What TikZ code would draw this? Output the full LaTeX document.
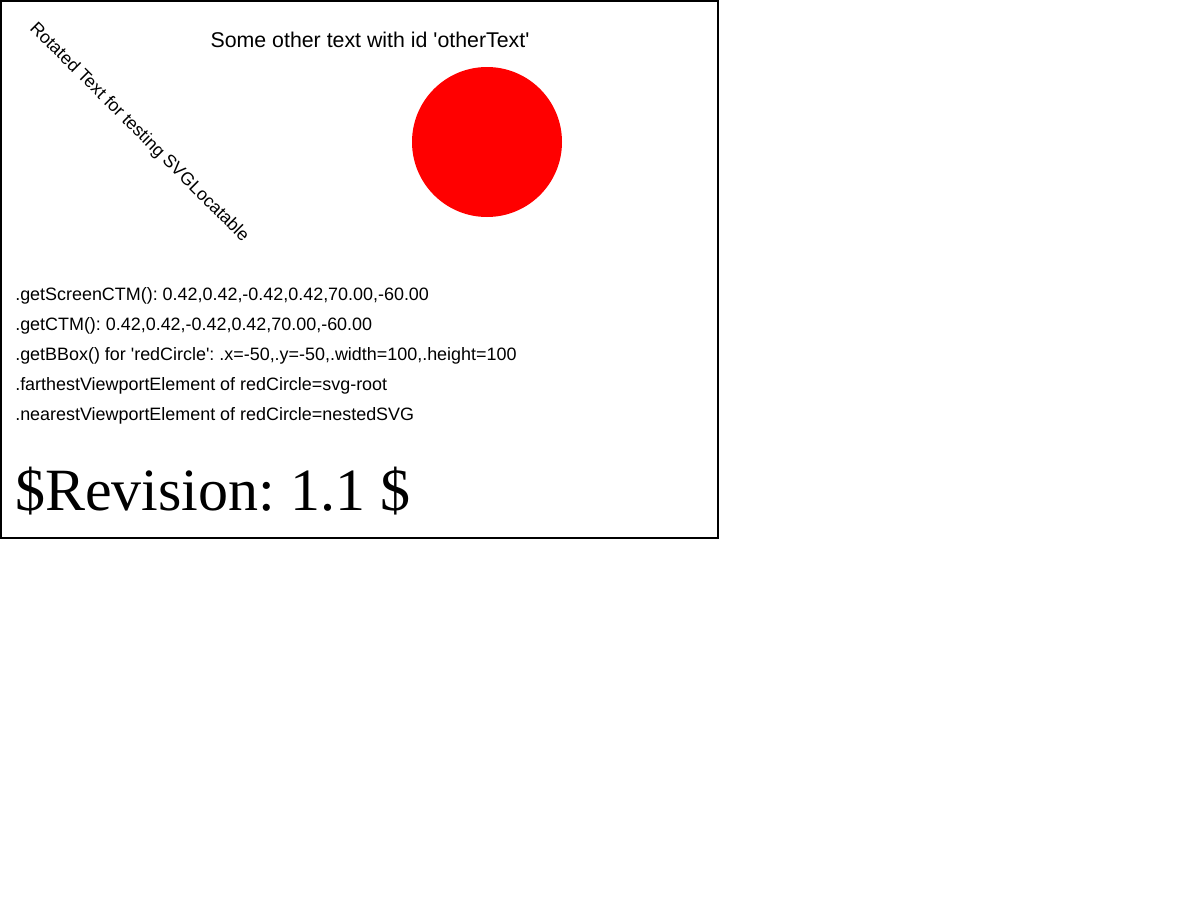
\documentclass[tikz,border=0pt]{standalone}
\usepackage{fontspec}
\setmainfont{Liberation Sans}
\newfontfamily\serifrev{Liberation Serif}
\frenchspacing
\begin{document}
\begin{tikzpicture}[x=0.75pt,y=-0.75pt,
  txt/.style={inner sep=0pt,anchor=base west,font=\fontsize{13.45}{16}\selectfont}]
\useasboundingbox (0,0) rectangle (1200,900);
\draw[line width=1.1pt] (1,1) rectangle (718,538);
\fill[red] (487,142) circle (75) coordinate (redCircle);
\node[inner sep=0pt,anchor=base,font=\fontsize{16}{19}\selectfont] (otherText) at (370,47) {Some other text with id \textquotesingle otherText\textquotesingle};
\node[inner sep=0pt,anchor=base west,rotate=-45,font=\fontsize{13.3}{16}\selectfont] (rot) at (29,29) {Rotated Text for testing SVGLocatable};
\node[txt] (l1) at (15,300) {.getScreenCTM(): 0.42,0.42,-0.42,0.42,70.00,-60.00};
\node[txt] (l2) at (15,330) {.getCTM(): 0.42,0.42,-0.42,0.42,70.00,-60.00};
\node[txt] (l3) at (15,360) {.getBBox() for \textquotesingle redCircle\textquotesingle: .x=-50,.y=-50,.width=100,.height=100};
\node[txt] (l4) at (15,390) {.farthestViewportElement of redCircle=svg-root};
\node[txt] (l5) at (15,420) {.nearestViewportElement of redCircle=nestedSVG};
\node[inner sep=0pt,anchor=base west,font=\serifrev\fontsize{45}{50}\selectfont] (rev) at (15,510) {\$Revision: 1.1 \$};
\end{tikzpicture}
\end{document}
